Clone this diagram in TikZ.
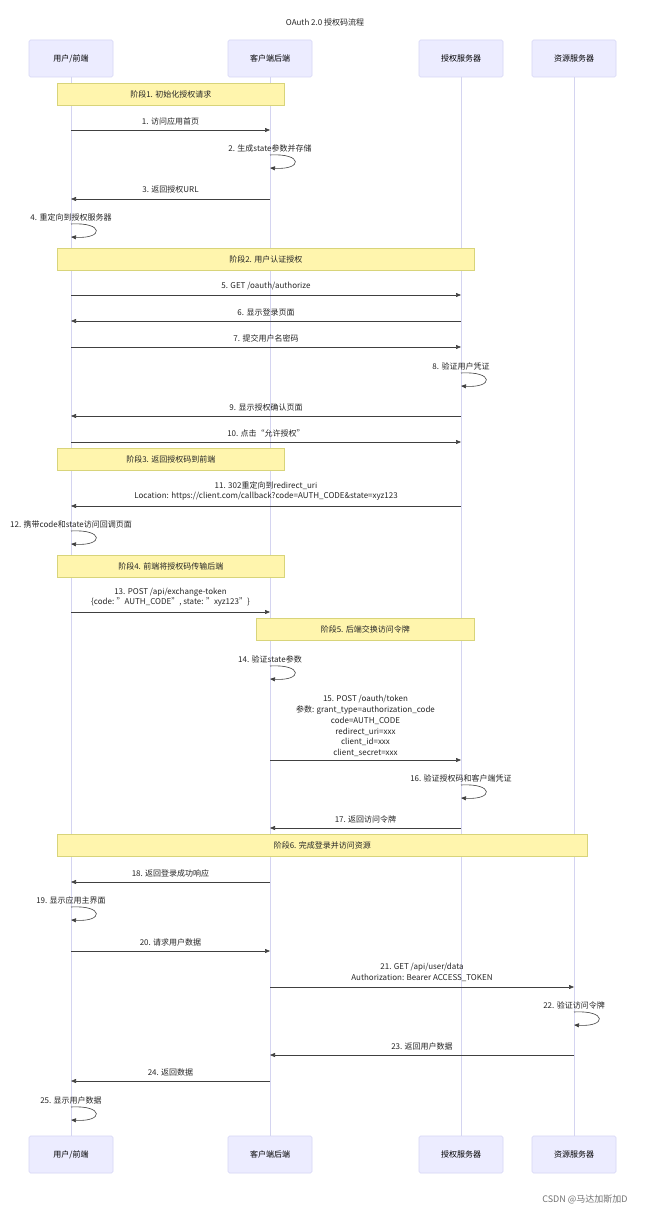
\documentclass[tikz,border=0pt]{standalone}
\usepackage{fontspec}
\setmainfont{Noto Sans CJK SC}
\usetikzlibrary{arrows.meta}
\definecolor{actfill}{HTML}{ECECFF}
\definecolor{actdraw}{HTML}{D6D6F5}
\definecolor{lifec}{HTML}{D4D4F0}
\definecolor{notefill}{HTML}{FFF5AD}
\definecolor{notedraw}{HTML}{D8D47A}
\begin{document}
\begin{tikzpicture}[x=1pt,y=-1pt,font=\fontsize{8}{10.8}\selectfont,
  actor/.style={draw=actdraw,fill=actfill,rounded corners=1.5pt,minimum width=84pt,minimum height=37pt,line width=0.6pt},
  notebox/.style={draw=notedraw,fill=notefill,line width=0.6pt,anchor=north west,inner sep=0pt},
  life/.style={draw=lifec,line width=0.8pt},
  msg/.style={-{Triangle[length=5pt,width=4pt]},line width=0.6pt,black!75},
  lbl/.style={align=center,inner sep=0pt,text=black!85}]
\useasboundingbox (0,0) rectangle (650,1214);
\fill[white] (0,0) rectangle (650,1214);
\node[lbl] (title) at (325,22) {OAuth 2.0 授权码流程};
% lifelines
\foreach \n/\x in {u/71,c/270,a/461,r/574}{
  \coordinate (\n t) at (\x,77); \coordinate (\n b) at (\x,1136);
  \draw[life] (\n t) -- (\n b);}
\foreach \n/\x/\t in {u/71/{用户/前端},c/270/客户端后端,a/461/授权服务器,r/574/资源服务器}{
  \node[actor] (\n top) at (\x,58.5) {\t};
  \node[actor] (\n bot) at (\x,1154.5) {\t};}
% notes
\newcommand\phase[6]{\node[notebox,minimum width=#3pt,minimum height=22pt] (#1) at (#2,#4) {};
  \node[lbl] (#1t) at (#1.center) {#6};}
\phase{p1}{57}{227}{83}{}{阶段1. 初始化授权请求}
\phase{p2}{57}{417}{248}{}{阶段2. 用户认证授权}
\phase{p3}{57}{227}{448}{}{阶段3. 返回授权码到前端}
\phase{p4}{57}{227}{555}{}{阶段4. 前端将授权码传输后端}
\phase{p5}{256}{218}{618}{}{阶段5. 后端交换访问令牌}
\phase{p6}{57}{530}{834}{}{阶段6. 完成登录并访问资源}
% message helper: name, fromx, tox, y, label y, text
\newcommand\msgline[6]{\coordinate (#1s) at (#2,#4); \coordinate (#1e) at (#3,#4);
  \draw[msg] (#1s) -- (#1e);
  \node[lbl,anchor=south] (#1l) at ({(#2+#3)/2},#5) {#6};}
\newcommand\selfm[4]{\coordinate (#1s) at (#2,#4); \coordinate (#1e) at (#2,#4+13);
  \draw[msg] (#1s) .. controls (#2+33,#4-2) and (#2+33,#4+15) .. (#1e);
  \node[lbl,anchor=south] (#1l) at (#2,#4-3) {#3};}
\msgline{m1}{71}{270}{130}{125}{1. 访问应用首页}
\selfm{m2}{270}{2. 生成state参数并存储}{155}
\msgline{m3}{270}{71}{199}{193}{3. 返回授权URL}
\selfm{m4}{71}{4. 重定向到授权服务器}{224}
\msgline{m5}{71}{461}{295}{290}{5. GET /oauth/authorize}
\msgline{m6}{461}{71}{321}{316}{6. 显示登录页面}
\msgline{m7}{71}{461}{347}{342}{7. 提交用户名密码}
\selfm{m8}{461}{8. 验证用户凭证}{373}
\msgline{m9}{461}{71}{416}{411}{9. 显示授权确认页面}
\msgline{m10}{71}{461}{442}{437}{10. 点击“允许授权”}
\msgline{m11}{461}{71}{506}{501}{11. 302重定向到redirect\_uri\\Location: https://client.com/callback?code=AUTH\_CODE\&state=xyz123}
\selfm{m12}{71}{12. 携带code和state访问回调页面}{531}
\msgline{m13}{71}{270}{612}{607}{13. POST /api/exchange-token\\\{code: "AUTH\_CODE", state: "xyz123"\}}
\selfm{m14}{270}{14. 验证state参数}{666}
\msgline{m15}{270}{461}{760}{757}{15. POST /oauth/token\\参数: grant\_type=authorization\_code\\code=AUTH\_CODE\\redirect\_uri=xxx\\client\_id=xxx\\client\_secret=xxx}
\selfm{m16}{461}{16. 验证授权码和客户端凭证}{785}
\msgline{m17}{461}{270}{828}{823}{17. 返回访问令牌}
\msgline{m18}{270}{71}{882}{877}{18. 返回登录成功响应}
\selfm{m19}{71}{19. 显示应用主界面}{907}
\msgline{m20}{71}{270}{951}{946}{20. 请求用户数据}
\msgline{m21}{270}{574}{987}{982}{21. GET /api/user/data\\Authorization: Bearer ACCESS\_TOKEN}
\selfm{m22}{574}{22. 验证访问令牌}{1012}
\msgline{m23}{574}{270}{1055}{1050}{23. 返回用户数据}
\msgline{m24}{270}{71}{1081}{1076}{24. 返回数据}
\selfm{m25}{71}{25. 显示用户数据}{1107}
\node[lbl,text=black!55,font=\fontsize{9}{10}\selectfont] (wm) at (585,1199) {CSDN @马达加斯加D};
\end{tikzpicture}
\end{document}
